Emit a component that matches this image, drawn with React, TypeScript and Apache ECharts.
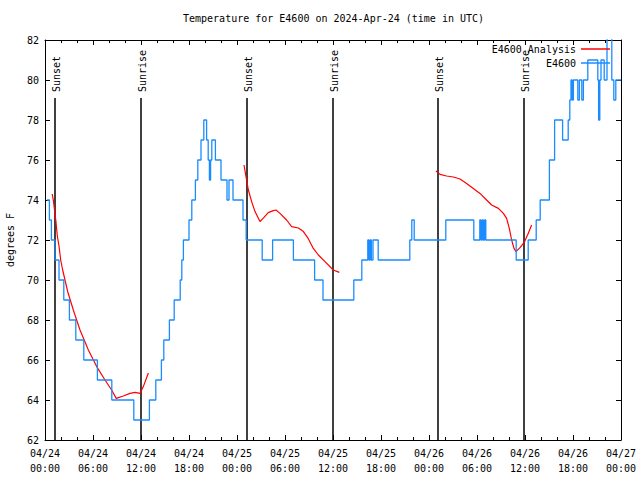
import { useEffect, useRef } from 'react';
import * as echarts from 'echarts';

const FONT = '"DejaVu Sans Mono", "Liberation Mono", monospace';
const TITLE = 'Temperature for E4600 on 2024-Apr-24 (time in UTC)';
const Y_NAME = 'degrees F';
const START_MONTH = '04';
const START_DAY = 24;

// hours since 2024-04-24 00:00 UTC
const sunHours = [1.25, 12.0, 25.2, 36.0, 49.15, 59.9];
const sunLabels = ['Sunset', 'Sunrise', 'Sunset', 'Sunrise', 'Sunset', 'Sunrise'];

// E4600 observed temperature (change points: [hour, degF])
const obsPoints: [number, number][] = [
  [0.25, 74], [0.55, 73], [0.8, 72], [1.25, 71], [1.75, 70], [2.35, 69], [3.05, 68], [3.85, 67],
  [4.85, 66], [6.55, 65], [8.35, 64], [11.1, 63], [13.05, 64], [13.85, 65], [14.55, 66], [14.85, 67],
  [15.55, 68], [16.15, 69], [16.9, 70], [17.1, 71], [17.3, 72], [18.0, 73], [18.35, 74], [18.8, 75],
  [19.1, 76], [19.5, 77], [19.85, 78], [20.2, 77], [20.4, 76], [20.55, 75], [20.7, 76], [20.85, 77],
  [21.3, 76], [22.0, 75], [22.75, 74], [23.0, 75], [23.5, 74], [24.75, 73], [25.15, 72], [27.15, 71],
  [28.45, 72], [31.05, 71], [33.7, 70], [34.75, 69], [38.6, 70], [39.6, 71], [40.35, 72], [40.5, 71],
  [40.65, 72], [40.8, 71], [41.0, 72], [41.65, 71], [45.6, 72], [45.85, 73], [46.15, 72], [50.1, 73],
  [53.6, 72], [54.35, 73], [54.5, 72], [54.65, 73], [54.8, 72], [54.95, 73], [55.1, 72], [58.9, 71],
  [60.4, 72], [61.4, 73], [61.9, 74], [63.05, 76], [63.7, 78], [64.7, 77], [65.4, 78], [65.6, 79],
  [65.75, 80], [65.9, 79], [66.05, 80], [66.6, 79], [66.8, 80], [67.1, 79], [67.3, 80], [67.85, 81],
  [69.1, 80], [69.2, 78], [69.35, 80], [69.5, 81], [69.9, 80], [70.25, 83], [70.85, 80], [71.1, 79],
  [71.35, 80], [72, 80],
];

// E4600 Analysis, three evening segments: [hour, degF]
const analysisNight1: [number, number][] = [
  [0.9, 74.3], [1.04, 74.0], [1.25, 73.3], [1.375, 72.9], [1.54, 72.2], [1.75, 71.7], [1.96, 71.0],
  [2.21, 70.5], [2.5, 70.0], [2.85, 69.4], [3.54, 68.5], [4.375, 67.5], [5.42, 66.5], [6.46, 65.67],
  [7.5, 65.0], [8.33, 64.5], [8.9, 64.08], [9.79, 64.2], [10.625, 64.33], [11.25, 64.38],
  [11.875, 64.33], [12.29, 64.67], [12.92, 65.35],
];
const analysisNight2: [number, number][] = [
  [24.875, 75.75], [25.125, 75.17], [25.42, 74.5], [25.83, 73.92], [26.25, 73.42], [26.875, 72.92],
  [27.375, 73.13], [27.9, 73.37], [28.54, 73.47], [28.875, 73.5], [29.375, 73.33], [30.2, 73.0],
  [30.83, 72.67], [31.67, 72.6], [32.3, 72.42], [32.9, 72.08], [33.54, 71.58], [34.17, 71.25],
  [35.0, 70.92], [36.04, 70.5], [36.79, 70.38],
];
const analysisNight3: [number, number][] = [
  [48.875, 75.45], [49.375, 75.28], [50.2, 75.2], [51.04, 75.15], [51.875, 75.05], [52.7, 74.83],
  [53.54, 74.58], [54.375, 74.33], [55.2, 74.0], [55.83, 73.75], [56.67, 73.58], [57.3, 73.33],
  [57.7, 73.08], [58.04, 72.58], [58.33, 72.0], [58.625, 71.58], [58.875, 71.42], [59.375, 71.62],
  [59.9, 71.88], [60.4, 72.33], [60.83, 72.75],
];

const RED = '#ff0000';
const BLUE = '#1a8cff';

function xLabel(h: number): string {
  const day = START_DAY + Math.floor(h / 24);
  const hour = Math.round(h % 24);
  const hh = String(hour).padStart(2, '0');
  return `${START_MONTH}/${day}\n${hh}:00`;
}

export default function App() {
  const ref = useRef<HTMLDivElement>(null);
  useEffect(() => {
    if (!ref.current) return;
    const chart = echarts.init(ref.current, null, { renderer: 'svg' });
    const analysisData: any[] = [
      ...analysisNight1,
      [18, '-'],
      ...analysisNight2,
      [42, '-'],
      ...analysisNight3,
    ];
    const axisCommon = {
      type: 'value',
      axisLine: { show: true, onZero: false, lineStyle: { color: '#000', width: 1 } },
      splitLine: { show: false },
    };
    const legendCommon = {
      orient: 'vertical',
      align: 'right',
      right: 30,
      icon: 'rect',
      itemWidth: 29,
      itemHeight: 1.5,
      padding: 0,
      selectedMode: false,
      textStyle: { fontFamily: FONT, fontSize: 10, color: '#000', lineHeight: 12 },
    };
    chart.setOption({
      animation: false,
      backgroundColor: '#fff',
      title: {
        text: TITLE,
        left: 183,
        top: 13,
        padding: 0,
        textStyle: { fontFamily: FONT, fontSize: 10, fontWeight: 'normal', color: '#000' },
      },
      legend: [
        { ...legendCommon, top: 43, data: ['E4600 Analysis'] },
        { ...legendCommon, top: 57, data: ['E4600'] },
      ],
      grid: { left: 45, right: 19, top: 40, bottom: 40, containLabel: false, outerBoundsMode: 'none' },
      xAxis: [
        {
          ...axisCommon,
          position: 'bottom',
          min: 0,
          max: 72,
          interval: 6,
          axisTick: { show: true, inside: true, length: 5, lineStyle: { color: '#000' } },
          minorTick: { show: true, splitNumber: 3, length: 3, lineStyle: { color: '#000' } },
          minorSplitLine: { show: false },
          axisLabel: {
            formatter: (v: number) => xLabel(v),
            fontFamily: FONT,
            fontSize: 10,
            color: '#000',
            lineHeight: 15,
            margin: 6,
          },
        },
        {
          ...axisCommon,
          position: 'top',
          min: 0,
          max: 72,
          interval: 6,
          axisTick: { show: true, inside: true, length: 5, lineStyle: { color: '#000' } },
          minorTick: { show: true, splitNumber: 3, length: 3, lineStyle: { color: '#000' } },
          minorSplitLine: { show: false },
          axisLabel: { show: false },
        },
      ],
      yAxis: [
        {
          ...axisCommon,
          position: 'left',
          min: 62,
          max: 82,
          interval: 2,
          name: Y_NAME,
          nameLocation: 'middle',
          nameGap: 30,
          nameRotate: 90,
          nameTextStyle: { fontFamily: FONT, fontSize: 10, color: '#000' },
          axisTick: { show: true, inside: true, length: 5, lineStyle: { color: '#000' } },
          axisLabel: { fontFamily: FONT, fontSize: 10, color: '#000', margin: 6 },
        },
        {
          ...axisCommon,
          position: 'right',
          min: 62,
          max: 82,
          interval: 2,
          axisTick: { show: true, inside: true, length: 5, lineStyle: { color: '#000' } },
          axisLabel: { show: false },
        },
      ],
      series: [
        {
          type: 'custom',
          name: 'sun',
          xAxisIndex: 0,
          yAxisIndex: 0,
          encode: { x: 0, y: 1 },
          data: sunHours.map((h, i) => [h, 62, i]),
          renderItem: (_params: any, api: any) => {
            const h = api.value(0);
            const idx = api.value(2);
            const bottom = api.coord([h, 62]);
            const top = api.coord([h, 82]);
            const x = Math.round(bottom[0]);
            return {
              type: 'group',
              children: [
                {
                  type: 'line',
                  shape: { x1: x, y1: bottom[1], x2: x, y2: top[1] + 58 },
                  style: { stroke: '#000', lineWidth: 1.5 },
                },
                {
                  type: 'text',
                  x: x + 1.5,
                  y: top[1] + 52,
                  rotation: Math.PI / 2,
                  style: {
                    text: sunLabels[idx],
                    fill: '#000',
                    fontFamily: FONT,
                    fontSize: 10,
                    align: 'left',
                    verticalAlign: 'middle',
                  },
                },
              ],
            };
          },
        },
        {
          type: 'line',
          name: 'E4600 Analysis',
          color: RED,
          data: analysisData,
          symbol: 'none',
          connectNulls: false,
          lineStyle: { color: RED, width: 1.2 },
        },
        {
          type: 'line',
          name: 'E4600',
          color: BLUE,
          data: obsPoints,
          step: 'end',
          symbol: 'none',
          lineStyle: { color: BLUE, width: 1.3 },
        },
      ],
    });
    return () => chart.dispose();
  }, []);
  return (
    <div
      ref={ref}
      style={{ position: 'absolute', left: 0, top: 0, width: 640, height: 480, background: '#fff' }}
    />
  );
}
